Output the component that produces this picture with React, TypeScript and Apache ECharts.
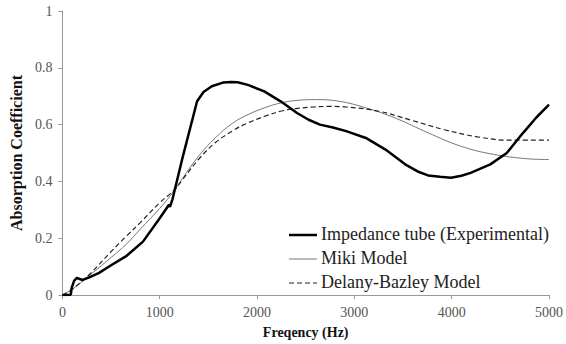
import React, { useEffect, useRef } from "react";
import * as echarts from "echarts";

const expFreq = [0, 75, 87, 95, 105, 120, 148, 208, 276, 377, 492, 660, 828, 1000, 1095, 1105, 1131, 1232, 1384, 1450, 1535, 1650, 1737, 1800, 1906, 2074, 2242, 2411, 2530, 2646, 2780, 2916, 3118, 3320, 3522, 3650, 3758, 3880, 3993, 4100, 4195, 4397, 4566, 4734, 4870, 5000];
const expVals = [0, 0, 0.003, 0.025, 0.035, 0.05, 0.06, 0.053, 0.062, 0.078, 0.103, 0.138, 0.188, 0.27, 0.318, 0.31, 0.337, 0.48, 0.682, 0.715, 0.735, 0.748, 0.75, 0.749, 0.74, 0.717, 0.682, 0.641, 0.617, 0.6, 0.59, 0.577, 0.553, 0.512, 0.46, 0.435, 0.421, 0.416, 0.413, 0.42, 0.43, 0.46, 0.5, 0.571, 0.625, 0.67];

const mikiFreq = [0, 100, 300, 500, 660, 800, 1000, 1150, 1232, 1400, 1570, 1750, 1906, 2100, 2242, 2400, 2600, 2848, 3118, 3421, 3758, 4094, 4431, 4768, 5000];
const mikiVals = [0, 0.02, 0.075, 0.132, 0.18, 0.232, 0.305, 0.368, 0.41, 0.489, 0.553, 0.605, 0.635, 0.662, 0.676, 0.685, 0.688, 0.682, 0.659, 0.623, 0.571, 0.524, 0.495, 0.48, 0.477];

const dbFreq = [0, 100, 300, 492, 660, 800, 1000, 1150, 1232, 1400, 1569, 1750, 1906, 2100, 2242, 2400, 2579, 2750, 2916, 3253, 3589, 3926, 4263, 4600, 5000];
const dbVals = [0, 0.02, 0.08, 0.15, 0.208, 0.255, 0.325, 0.37, 0.405, 0.478, 0.536, 0.578, 0.606, 0.632, 0.647, 0.656, 0.662, 0.664, 0.662, 0.647, 0.615, 0.582, 0.557, 0.545, 0.545];

const seriesNames = ["Impedance tube (Experimental)", "Miki Model", "Delany-Bazley Model"];
const xTitle = "Freqency (Hz)";
const yTitle = "Absorption Coefficient";

const zip = (xs: number[], ys: number[]) => xs.map((x, i) => [x, ys[i]]);

const SERIF = "serif";

const legendStyles = [
  { stroke: "#000", lineWidth: 2.5, lineDash: null as number[] | null },
  { stroke: "#777", lineWidth: 1, lineDash: null as number[] | null },
  { stroke: "#222", lineWidth: 1.2, lineDash: [5, 3] as number[] | null },
];

export default function App() {
  const ref = useRef<HTMLDivElement>(null);
  useEffect(() => {
    if (!ref.current) return;
    const chart = echarts.init(ref.current, undefined, { renderer: "svg" });
    const legendX = 289;
    const legendY0 = 235;
    const legendStep = 24;
    const legendGraphics: any[] = [];
    seriesNames.forEach((name, i) => {
      const y = legendY0 + i * legendStep;
      legendGraphics.push({
        type: "line",
        shape: { x1: legendX, y1: y, x2: legendX + 28, y2: y },
        style: { stroke: legendStyles[i].stroke, lineWidth: legendStyles[i].lineWidth, lineDash: legendStyles[i].lineDash },
        silent: true,
      });
      legendGraphics.push({
        type: "text",
        x: legendX + 32,
        y: y - 10,
        style: { text: name, fill: "#222", fontFamily: SERIF, fontSize: 18 },
        silent: true,
      });
    });
    chart.setOption({
      animation: false,
      backgroundColor: "#fff",
      textStyle: { fontFamily: SERIF },
      grid: { left: 58, right: 14, top: 11, bottom: 48 },
      graphic: legendGraphics,
      xAxis: {
        type: "value",
        min: 0,
        max: 5000,
        interval: 1000,
        name: xTitle,
        nameLocation: "middle",
        nameGap: 30,
        nameTextStyle: { fontFamily: SERIF, fontSize: 14, fontWeight: "bold", color: "#111" },
        axisLine: { lineStyle: { color: "#999", width: 1 } },
        axisTick: { show: true, length: 4, lineStyle: { color: "#999" } },
        axisLabel: { fontFamily: SERIF, fontSize: 14, color: "#555", margin: 10, formatter: (v: number) => String(v) },
        splitLine: { show: false },
      },
      yAxis: {
        type: "value",
        min: 0,
        max: 1,
        interval: 0.2,
        name: yTitle,
        nameLocation: "middle",
        nameGap: 34,
        nameRotate: 90,
        nameTextStyle: { fontFamily: SERIF, fontSize: 16, fontWeight: "bold", color: "#111" },
        axisLine: { show: true, lineStyle: { color: "#999", width: 1 } },
        axisTick: { show: true, length: 4, lineStyle: { color: "#999" } },
        axisLabel: { fontFamily: SERIF, fontSize: 14, color: "#555", margin: 10, formatter: (v: number) => String(Math.round(v * 10) / 10) },
        splitLine: { show: false },
      },
      series: [
        {
          name: seriesNames[0],
          type: "line",
          data: zip(expFreq, expVals),
          symbol: "none",
          smooth: false,
          lineStyle: { color: "#000", width: 2.5 },
          itemStyle: { color: "#000" },
          z: 3,
        },
        {
          name: seriesNames[1],
          type: "line",
          data: zip(mikiFreq, mikiVals),
          symbol: "none",
          smooth: 0.4,
          lineStyle: { color: "#777", width: 1 },
          itemStyle: { color: "#777" },
          z: 2,
        },
        {
          name: seriesNames[2],
          type: "line",
          data: zip(dbFreq, dbVals),
          symbol: "none",
          smooth: 0.4,
          lineStyle: { color: "#222", width: 1.2, type: [5, 3] },
          itemStyle: { color: "#222" },
          z: 2,
        },
      ],
    });
    return () => chart.dispose();
  }, []);
  return <div ref={ref} style={{ position: "fixed", left: 0, top: 0, width: 566, height: 344 }} />;
}
